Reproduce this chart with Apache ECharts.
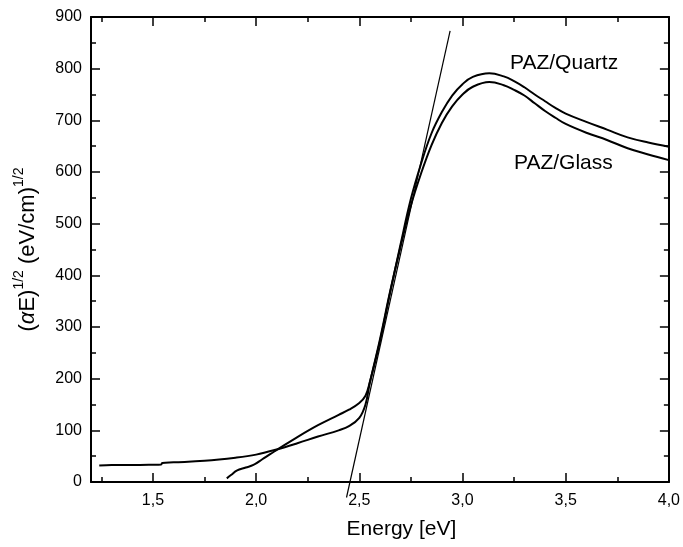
<!DOCTYPE html>
<html>
<head>
<meta charset="utf-8">
<script src="https://cdn.jsdelivr.net/npm/echarts@6/dist/echarts.min.js"></script>
<style>
html,body{margin:0;padding:0;background:#fff;}
#chart{width:683px;height:547px;}
</style>
</head>
<body>
<div id="chart"></div>
<script>
// Energy (eV) and (alpha E)^1/2 values
var quartzE = [1.858,1.88,1.906,1.95,1.987,2.03,2.068,2.1,2.2,2.3,2.4,2.45,2.5,2.53,2.55,2.6,2.65,2.7,2.75,2.8,2.85,2.9,2.95,3.0,3.05,3.13,3.2,3.25,3.3,3.35,3.4,3.45,3.5,3.6,3.7,3.8,3.9,4.0];
var quartzV = [7,14,22,28,33,44,54,62,87,110,130,140,153,167,192,272,368,460,548,617,675,716,748,770,784,791,785,776,764,750,737,724,713,697,682,667,657,649];
var glassE = [1.24,1.3,1.4,1.5,1.54,1.545,1.6,1.75,1.9,2.0,2.1,2.2,2.3,2.4,2.45,2.5,2.53,2.55,2.6,2.65,2.7,2.75,2.8,2.85,2.9,2.95,3.0,3.05,3.13,3.2,3.25,3.3,3.35,3.4,3.45,3.5,3.6,3.7,3.8,3.9,4.0];
var glassV = [32,33,33,33.5,34,37,38,41,47,53,63,75,88,100,108,124,150,190,276,370,456,535,598,652,695,727,750,765,774,768,759,748,733,718,705,693,676,662,646,634,623];
var tangentE = [2.438,2.940];
var tangentV = [-30,873];
var xTickLabels = ['1,5','2,0','2,5','3,0','3,5','4,0'];
var seriesNames = ['PAZ/Quartz','PAZ/Glass'];

function zip(a,b){var r=[];for(var i=0;i<a.length;i++){r.push([a[i],b[i]]);}return r;}

var chart = echarts.init(document.getElementById('chart'), null, {renderer:'canvas'});
var FONT = 'Liberation Sans, Arial, sans-serif';
function axisLine(){ return {show:true, onZero:false, lineStyle:{color:'#000', width:2}}; }
function majorTick(){ return {show:true, inside:true, length:9, lineStyle:{color:'#000', width:1.5}}; }
function minorTick(){ return {show:true, splitNumber:2, length:5, lineStyle:{color:'#000', width:1.5}}; }

function xLabelFmt(v){
  var k = Math.round(v*2);
  if (Math.abs(v*2-k) > 1e-6 || v < 1.49) return '';
  var s = v.toFixed(1).replace('.', ',');
  return xTickLabels.indexOf(s) >= 0 ? s : '';
}

var option = {
  backgroundColor:'#fff',
  animation:false,
  grid:{left:91, right:14, top:17, bottom:65, containLabel:false},
  xAxis:[
    {type:'value', position:'bottom', min:1.2, max:4.0, splitNumber:5,
     axisLine:axisLine(), axisTick:majorTick(), minorTick:minorTick(),
     splitLine:{show:false}, minorSplitLine:{show:false},
     axisLabel:{show:true, color:'#000', fontFamily:FONT, fontSize:16, margin:11, formatter:xLabelFmt},
     name:'Energy [eV]', nameLocation:'middle', nameGap:37,
     nameTextStyle:{color:'#000', fontFamily:FONT, fontSize:21, padding:[0,0,0,43]}},
    {type:'value', position:'top', min:1.2, max:4.0, splitNumber:5,
     axisLine:axisLine(), axisTick:majorTick(), minorTick:minorTick(),
     splitLine:{show:false}, axisLabel:{show:false}}
  ],
  yAxis:[
    {type:'value', position:'left', min:0, max:900, interval:100,
     axisLine:axisLine(), axisTick:majorTick(), minorTick:minorTick(),
     splitLine:{show:false}, minorSplitLine:{show:false},
     axisLabel:{show:true, color:'#000', fontFamily:FONT, fontSize:16, margin:9},
     name:'{m|(}{a|α}{m|E)}{s|1/2}{m| (eV/cm)}{s|1/2}', nameLocation:'middle', nameGap:52, nameRotate:90,
     nameTextStyle:{color:'#000', fontFamily:FONT, fontSize:22,
       rich:{
         m:{fontFamily:FONT, fontSize:22, color:'#000', lineHeight:27, verticalAlign:'bottom'},
         a:{fontFamily:FONT, fontSize:22, fontStyle:'italic', color:'#000', lineHeight:27, verticalAlign:'bottom'},
         s:{fontFamily:FONT, fontSize:14, color:'#000', lineHeight:27, verticalAlign:'top'}
       }}},
    {type:'value', position:'right', min:0, max:900, interval:100,
     axisLine:axisLine(), axisTick:majorTick(), minorTick:minorTick(),
     splitLine:{show:false}, axisLabel:{show:false}}
  ],
  series:[
    {name:seriesNames[0], type:'line', xAxisIndex:0, yAxisIndex:0, data:zip(quartzE, quartzV),
     showSymbol:false, smooth:0.4, lineStyle:{color:'#000', width:2}},
    {name:seriesNames[1], type:'line', xAxisIndex:0, yAxisIndex:0, data:zip(glassE, glassV),
     showSymbol:false, smooth:0.4, lineStyle:{color:'#000', width:2}},
    {name:'tangent', type:'line', xAxisIndex:0, yAxisIndex:0, data:zip(tangentE, tangentV),
     showSymbol:false, clip:false, lineStyle:{color:'#000', width:1.2}}
  ],
  graphic:[
    {type:'text', x:510, y:63.5, style:{text:seriesNames[0], fill:'#000', font:'21px '+FONT, verticalAlign:'middle', align:'left'}},
    {type:'text', x:514, y:163.5, style:{text:seriesNames[1], fill:'#000', font:'21px '+FONT, verticalAlign:'middle', align:'left'}}
  ]
};
chart.setOption(option);
</script>
</body>
</html>
